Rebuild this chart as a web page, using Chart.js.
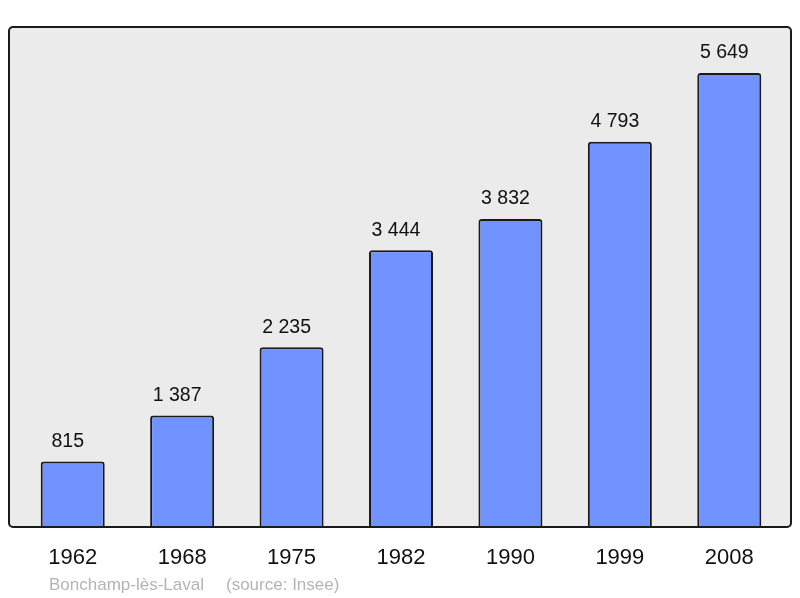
<!DOCTYPE html>
<html>
<head>
<meta charset="utf-8">
<script src="https://cdn.jsdelivr.net/npm/chart.js@4/dist/chart.umd.min.js"></script>
<style>
  body { margin: 0; background: #fff; }
  #wrap { width: 800px; height: 598px; }
</style>
</head>
<body>
<div id="wrap"><canvas id="myChart" width="800" height="598"></canvas></div>
<script>
// census years and population
const years = ["1962", "1968", "1975", "1982", "1990", "1999", "2008"];
const population = [815, 1387, 2235, 3444, 3832, 4793, 5649];
const placeName = "Bonchamp-lès-Laval";
const sourceName = "(source: Insee)";

const fmt = v => String(v).replace(/\B(?=(\d{3})+(?!\d))/g, " ");

// grey frame behind the bars, border on top of them
const framePlugin = {
    id: "frame",
    beforeDatasetsDraw(chart) {
        const ctx = chart.ctx;
        const a = chart.chartArea;
        ctx.save();
        ctx.beginPath();
        ctx.roundRect(9, a.top, 782, a.bottom - a.top, 4);
        ctx.fillStyle = "#ebebeb";
        ctx.fill();
        ctx.restore();
    },
    afterDatasetsDraw(chart) {
        const ctx = chart.ctx;
        const a = chart.chartArea;
        ctx.save();
        ctx.beginPath();
        ctx.roundRect(9, a.top, 782, a.bottom - a.top, 4);
        ctx.lineWidth = 2;
        ctx.strokeStyle = "#1a1a1a";
        ctx.stroke();

        // values above bars
        ctx.fillStyle = "#111";
        ctx.font = "19.5px 'Liberation Sans', Arial, sans-serif";
        ctx.textAlign = "center";
        ctx.textBaseline = "middle";
        chart.getDatasetMeta(0).data.forEach((bar, i) => {
            ctx.fillText(fmt(population[i]), bar.x - 5, bar.y - 20);
        });

        // source line
        ctx.fillStyle = "#b4b4b4";
        ctx.font = "17px 'Liberation Sans', Arial, sans-serif";
        ctx.textAlign = "left";
        ctx.fillText(placeName, 49, 585);
        ctx.fillText(sourceName, 226, 585);
        ctx.restore();
    }
};

new Chart(document.getElementById("myChart").getContext("2d"), {
    type: "bar",
    data: {
        labels: years,
        datasets: [
            {
                data: population,
                backgroundColor: "#7093ff",
                borderColor: "#1a1a1a",
                borderWidth: 2,
                borderRadius: 3,
                borderSkipped: "bottom",
                barPercentage: 0.585,
                categoryPercentage: 1
            }
        ]
    },
    options: {
        responsive: false,
        animation: false,
        layout: { padding: { left: 18, right: 16, top: 27, bottom: 21 } },
        plugins: {
            legend: { display: false },
            tooltip: { enabled: false }
        },
        scales: {
            x: {
                grid: { display: false },
                border: { display: false },
                ticks: {
                    color: "#111",
                    padding: 10,
                    font: { family: "'Liberation Sans', Arial, sans-serif", size: 22 }
                },
                afterFit: s => { s.height = 50; }
            },
            y: {
                display: false,
                min: 0,
                max: 6221
            }
        }
    },
    plugins: [framePlugin]
});
</script>
</body>
</html>
